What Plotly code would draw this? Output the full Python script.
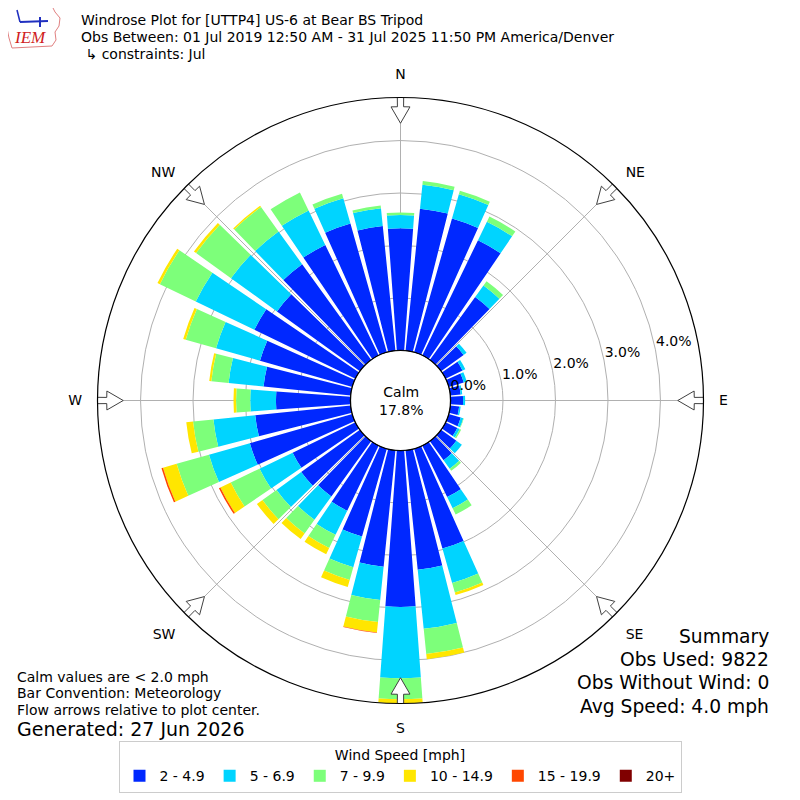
import plotly.graph_objects as go

# wind direction bins (deg, meteorological convention)
directions = list(range(0, 360, 10))

compass_ticks = [0, 45, 90, 135, 180, 225, 270, 315]
compass_labels = ["N", "NE", "E", "SE", "S", "SW", "W", "NW"]

speed_bins = ["2 - 4.9", "5 - 6.9", "7 - 9.9", "10 - 14.9", "15 - 19.9", "20+"]
bin_colors = ["#0028ff", "#00d4ff", "#7dff7a", "#ffe600", "#ff4700", "#800000"]

pct_2_5 = [2.33, 2.72, 2.65, 2.44, 1.48, 0.53, 0.36, 0.30, 0.20, 0.24, 0.17, 0.24,
           0.25, 0.36, 0.45, 1.09, 1.98, 2.29, 2.98, 2.23, 1.74, 1.38, 1.30, 1.38,
           1.33, 2.03, 1.83, 1.42, 1.67, 1.83, 2.14, 1.95, 2.25, 2.34, 2.55, 2.39]
pct_5_7 = [0.25, 0.46, 0.48, 0.39, 0.27, 0.07, 0.06, 0.06, 0.03, 0.04, 0.03, 0.05,
           0.05, 0.13, 0.20, 0.24, 0.68, 1.13, 1.36, 0.64, 0.61, 0.51, 0.55, 0.58,
           0.70, 0.81, 0.80, 0.49, 0.67, 0.87, 1.24, 1.08, 0.77, 0.73, 0.50, 0.34]
pct_7_10 = [0.05, 0.07, 0.07, 0.11, 0.10, 0.00, 0.00, 0.00, 0.00, 0.00, 0.00, 0.01,
            0.03, 0.00, 0.05, 0.13, 0.19, 0.48, 0.40, 0.42, 0.25, 0.28, 0.32, 0.33,
            0.61, 0.64, 0.39, 0.27, 0.33, 0.60, 0.76, 0.82, 0.57, 0.38, 0.09, 0.05]
pct_10_15 = [0.00, 0.00, 0.00, 0.00, 0.00, 0.00, 0.00, 0.00, 0.00, 0.00, 0.00, 0.00,
             0.00, 0.00, 0.00, 0.00, 0.05, 0.10, 0.08, 0.20, 0.14, 0.13, 0.13, 0.13,
             0.22, 0.27, 0.13, 0.05, 0.04, 0.05, 0.05, 0.05, 0.03, 0.00, 0.00, 0.00]
pct_15_20 = [0.00] * 19 + [0.01] + [0.00] * 4 + [0.03, 0.03] + [0.00] * 10
pct_20_up = [0.00] * 36

radial_ticks = [1, 2, 3, 4]
radial_labels = [0, 1, 2, 3, 4]
calm_pct = 17.8

bins = [pct_2_5, pct_5_7, pct_7_10, pct_10_15, pct_15_20, pct_20_up]
totals = [sum(v) for v in zip(*bins)]
rmax = max(totals)

# the page puts the plot 8px in from the window corner
W = 792
OFF = 8


def px(x):
    return (x - OFF) / W


def py(y):
    return 1 - (y - OFF) / W


fig = go.Figure()

for name, vals, color in zip(speed_bins, bins, bin_colors):
    fig.add_trace(
        go.Barpolar(
            r=vals,
            theta=directions,
            width=8.4,
            name=name,
            marker=dict(color=color, line=dict(width=0)),
            hoverinfo="skip",
        )
    )

# calm circle outline
fig.add_trace(
    go.Scatterpolar(
        r=[0] * 73,
        theta=list(range(0, 365, 5)),
        mode="lines",
        line=dict(color="black", width=1.3),
        showlegend=False,
        hoverinfo="skip",
        cliponaxis=False,
    )
)

# hollow flow arrows on the rim, pointing at the center
arrow_dr = [0.066, -0.176, -0.176, -0.49, -0.176, -0.176, 0.066, 0.066]
arrow_dt = [-0.6, -0.6, -1.85, 0.0, 1.85, 0.6, 0.6, -0.6]
for d in compass_ticks:
    fig.add_trace(
        go.Scatterpolar(
            r=[rmax + dr for dr in arrow_dr],
            theta=[d + dt for dt in arrow_dt],
            mode="lines",
            fill="toself",
            fillcolor="white",
            line=dict(color="#404040", width=1),
            showlegend=False,
            hoverinfo="skip",
            cliponaxis=False,
        )
    )

# radial percent labels
fig.add_trace(
    go.Scatterpolar(
        r=[t + 0.37 for t in radial_labels],
        theta=[78] * len(radial_labels),
        mode="text",
        text=[f"{t:.1f}%" for t in radial_labels],
        textfont=dict(size=14, color="black"),
        showlegend=False,
        hoverinfo="skip",
        cliponaxis=False,
    )
)

annotations = [
    dict(text="Windrose Plot for [UTTP4] US-6 at Bear BS Tripod", x=79, y=20),
    dict(text="Obs Between: 01 Jul 2019 12:50 AM - 31 Jul 2025 11:50 PM America/Denver", x=79, y=37),
    dict(text=" \u21b3 constraints: Jul", x=79, y=54),
    dict(text="Calm values are < 2.0 mph", x=14.5, y=677),
    dict(text="Bar Convention: Meteorology", x=14.5, y=693),
    dict(text="Flow arrows relative to plot center.", x=14.5, y=710),
    dict(text="Generated: 27 Jun 2026", x=14.5, y=729, size=19),
]
ann = []
for a in annotations:
    ann.append(
        dict(
            text=a["text"], xref="paper", yref="paper",
            x=px(a["x"]), y=py(a["y"]),
            xanchor="left", yanchor="middle", showarrow=False,
            font=dict(size=a.get("size", 14), color="black"),
        )
    )

summary = [("Summary", 636), ("Obs Used: 9822", 659), ("Obs Without Wind: 0", 682),
           ("Avg Speed: 4.0 mph", 706)]
for text, y in summary:
    ann.append(
        dict(
            text=text, xref="paper", yref="paper", x=px(771), y=py(y),
            xanchor="right", yanchor="middle", showarrow=False,
            font=dict(size=18.7, color="black"),
        )
    )

ann.append(
    dict(
        text=f"Calm<br>{calm_pct:.1f}%", xref="paper", yref="paper",
        x=px(400.5), y=py(400.5),
        xanchor="center", yanchor="middle", showarrow=False, align="center",
        font=dict(size=14, color="black"),
    )
)
# IEM logo stand-in: state outline, wind symbol and letters
ann.append(
    dict(
        text="<i>IEM</i>", xref="paper", yref="paper", x=px(30), y=py(38),
        xanchor="center", yanchor="middle", showarrow=False,
        font=dict(size=17, color="#d02020", family="Liberation Serif"),
    )
)
logo_outline = "M 6 6 L 52 6 L 55 12 L 60 18 L 59 26 L 55 32 L 56 40 L 52 46 L 12 48 L 9 38 L 7 28 L 5 16 Z"

fig.update_layout(
    width=W,
    height=W,
    margin=dict(l=0, r=0, t=0, b=0),
    paper_bgcolor="white",
    plot_bgcolor="white",
    font=dict(family="DejaVu Sans", color="black"),
    showlegend=True,
    annotations=ann,
    polar=dict(
        domain=dict(x=[px(97.5), px(703.5)], y=[py(703.5), py(97.5)]),
        hole=50 / 303,
        bgcolor="white",
        radialaxis=dict(
            range=[0, rmax],
            tickvals=radial_ticks,
            showticklabels=False,
            ticks="",
            showline=False,
            gridcolor="#b0b0b0",
            gridwidth=1,
        ),
        angularaxis=dict(
            rotation=90,
            direction="clockwise",
            tickvals=compass_ticks,
            ticktext=compass_labels,
            showline=True,
            linecolor="black",
            linewidth=1.2,
            gridcolor="#b0b0b0",
            gridwidth=1,
            ticks="outside",
            ticklen=12,
            tickcolor="rgba(0,0,0,0)",
            tickfont=dict(size=14, color="black"),
        ),
    ),
    legend=dict(
        orientation="h",
        x=px(400),
        xanchor="center",
        y=py(741),
        yanchor="top",
        title=dict(text="Wind Speed [mph]", side="top center", font=dict(size=14)),
        font=dict(size=14),
        bordercolor="#cccccc",
        borderwidth=1,
        itemwidth=30,
    ),
)

# logo drawn in pixel space on a hidden overlay axis
fig.update_layout(
    xaxis=dict(domain=[0, 1], range=[OFF, OFF + W], visible=False, fixedrange=True),
    yaxis=dict(domain=[0, 1], range=[OFF + W, OFF], visible=False, fixedrange=True),
)
fig.add_shape(type="path", xref="x", yref="y", path=logo_outline,
              line=dict(color="#e08080", width=1))
fig.add_shape(type="line", xref="x", yref="y", x0=20, y0=22, x1=48, y1=21,
              line=dict(color="#2030c0", width=2))
fig.add_shape(type="line", xref="x", yref="y", x0=40, y0=17, x1=40, y1=27,
              line=dict(color="#2030c0", width=2))
fig.add_shape(type="line", xref="x", yref="y", x0=17, y0=10, x1=20, y1=22,
              line=dict(color="#2030c0", width=1.5))

fig.write_html("out.html")
